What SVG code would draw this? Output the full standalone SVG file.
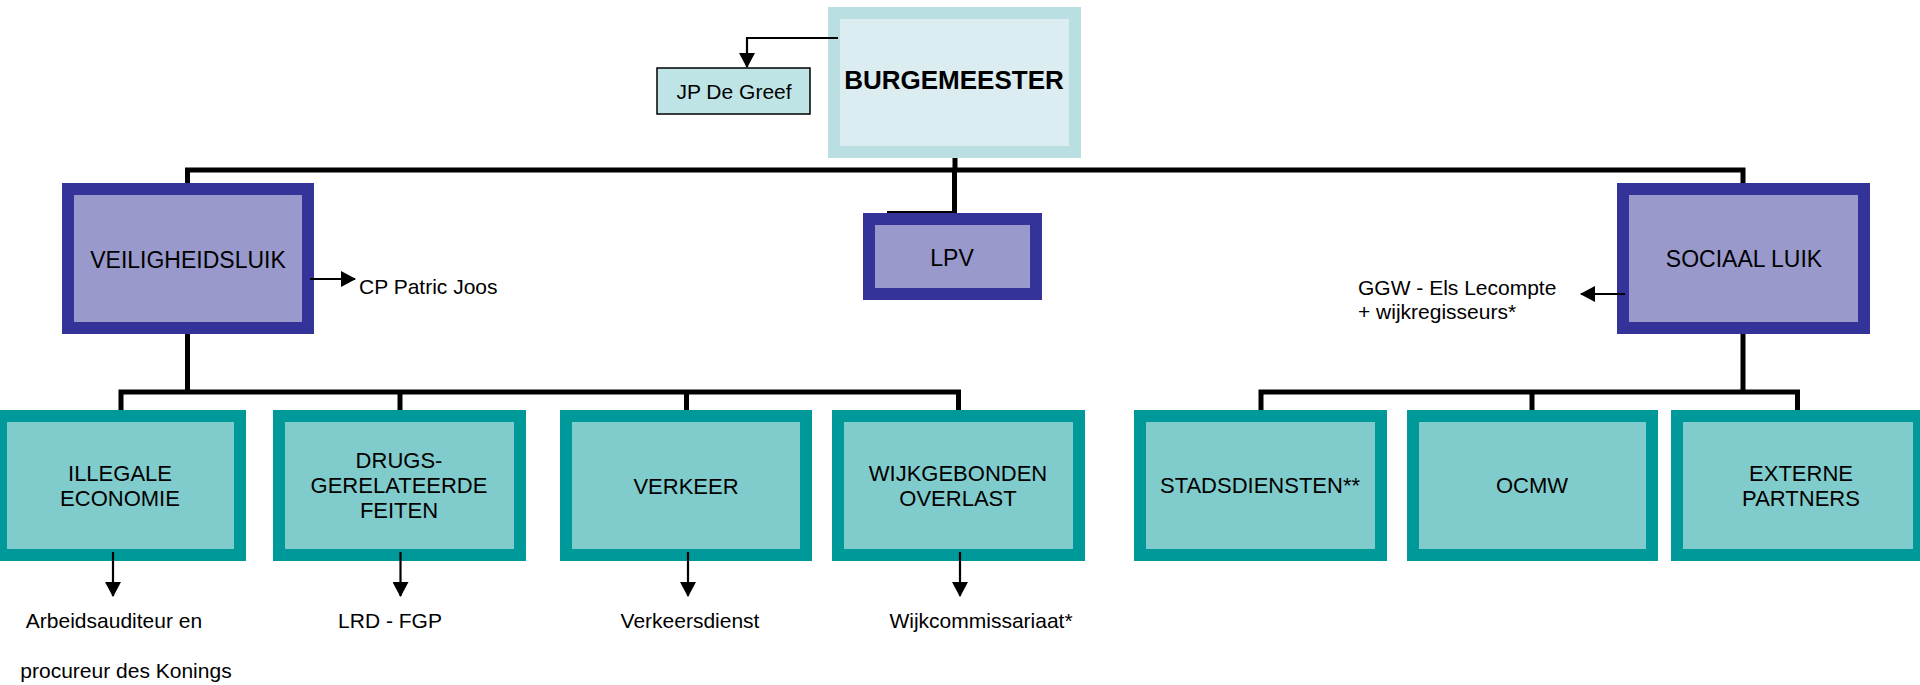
<svg xmlns="http://www.w3.org/2000/svg" width="1920" height="685" viewBox="0 0 1920 685">
<style>
text{font-family:"Liberation Sans",Arial,sans-serif;fill:#000}
.lbl{font-size:22px;text-anchor:middle}
.big{font-size:23px}
.note{font-size:21px}
.mid{text-anchor:middle}
.top{fill:#dcedf1;stroke:#b9dfe3;stroke-width:12}
.blue{fill:#9999cc;stroke:#333399;stroke-width:12}
.teal{fill:#80cccc;stroke:#009999;stroke-width:12}
.thick{fill:none;stroke:#000;stroke-width:5}
.thin{fill:none;stroke:#000;stroke-width:2.2}
</style>
<defs>
<marker id="ah" markerUnits="userSpaceOnUse" markerWidth="16" markerHeight="16" refX="14" refY="8" orient="auto" viewBox="0 0 16 16">
<path d="M0 0 L15 8 L0 16 Z" fill="#000"/>
</marker>
</defs>
<g id="connectors-back">
<path class="thick" d="M187.5 183 V170 H1743 V183"/>
<path class="thick" d="M955 158 V170"/>
<path class="thick" d="M954.5 170 V213"/>
<path class="thin" d="M887 212 H954"/>
<path class="thick" d="M187.5 334 V392"/>
<path class="thick" d="M121 410 V392 H958.5 V410"/>
<path class="thick" d="M400 392 V410"/>
<path class="thick" d="M686.5 392 V410"/>
<path class="thick" d="M1743 334 V392"/>
<path class="thick" d="M1261 410 V392 H1797.5 V410"/>
<path class="thick" d="M1532 392 V410"/>
</g>
<g id="burgemeester"><rect class="top" x="834" y="13" width="241" height="139"/><text x="954" y="89" font-size="26" font-weight="bold" text-anchor="middle">BURGEMEESTER</text></g>
<g id="jp-de-greef"><rect x="657" y="68" width="153" height="46" fill="#bfe4e6" stroke="#000" stroke-width="1.5"/><text class="note mid" x="734" y="99">JP De Greef</text></g>
<g id="veiligheidsluik"><rect class="blue" x="68" y="189" width="240" height="139"/><text class="lbl big" x="188" y="268">VEILIGHEIDSLUIK</text></g>
<g id="lpv"><rect class="blue" x="869" y="219" width="167" height="75"/><text class="lbl big" x="952" y="266">LPV</text></g>
<g id="sociaal-luik"><rect class="blue" x="1623" y="189" width="241" height="139"/><text class="lbl big" x="1744" y="267">SOCIAAL LUIK</text></g>
<g id="illegale-economie"><rect class="teal" x="1" y="416" width="239" height="139"/><text class="lbl" x="120" y="481">ILLEGALE</text><text class="lbl" x="120" y="506">ECONOMIE</text></g>
<g id="drugs"><rect class="teal" x="279" y="416" width="241" height="139"/><text class="lbl" x="399" y="468">DRUGS-</text><text class="lbl" x="399" y="493">GERELATEERDE</text><text class="lbl" x="399" y="518">FEITEN</text></g>
<g id="verkeer"><rect class="teal" x="566" y="416" width="240" height="139"/><text class="lbl" x="686" y="494">VERKEER</text></g>
<g id="wijkgebonden-overlast"><rect class="teal" x="838" y="416" width="241" height="139"/><text class="lbl" x="958" y="481">WIJKGEBONDEN</text><text class="lbl" x="958" y="506">OVERLAST</text></g>
<g id="stadsdiensten"><rect class="teal" x="1140" y="416" width="241" height="139"/><text class="lbl" x="1260" y="493">STADSDIENSTEN**</text></g>
<g id="ocmw"><rect class="teal" x="1413" y="416" width="239" height="139"/><text class="lbl" x="1532" y="493">OCMW</text></g>
<g id="externe-partners"><rect class="teal" x="1677" y="416" width="242" height="139"/><text class="lbl" x="1801" y="481">EXTERNE</text><text class="lbl" x="1801" y="506">PARTNERS</text></g>
<g id="connectors">
<path class="thin" d="M838 38 H747 V67" marker-end="url(#ah)"/>
<path class="thin" d="M310 279 H355" marker-end="url(#ah)"/>
<path class="thin" d="M1625 294 H1581" marker-end="url(#ah)"/>
<path class="thin" d="M113 552 V596" marker-end="url(#ah)"/>
<path class="thin" d="M400.5 552 V596" marker-end="url(#ah)"/>
<path class="thin" d="M688 552 V596" marker-end="url(#ah)"/>
<path class="thin" d="M960 552 V596" marker-end="url(#ah)"/>
</g>
<g id="notes">
<text class="note" x="359" y="294">CP Patric Joos</text>
<text class="note" x="1358" y="295">GGW - Els Lecompte</text>
<text class="note" x="1358" y="319">+ wijkregisseurs*</text>
<text class="note mid" x="114" y="628">Arbeidsauditeur en</text>
<text class="note mid" x="126" y="678">procureur des Konings</text>
<text class="note mid" x="390" y="628">LRD - FGP</text>
<text class="note mid" x="690" y="628">Verkeersdienst</text>
<text class="note mid" x="981" y="628">Wijkcommissariaat*</text>
</g>
</svg>
